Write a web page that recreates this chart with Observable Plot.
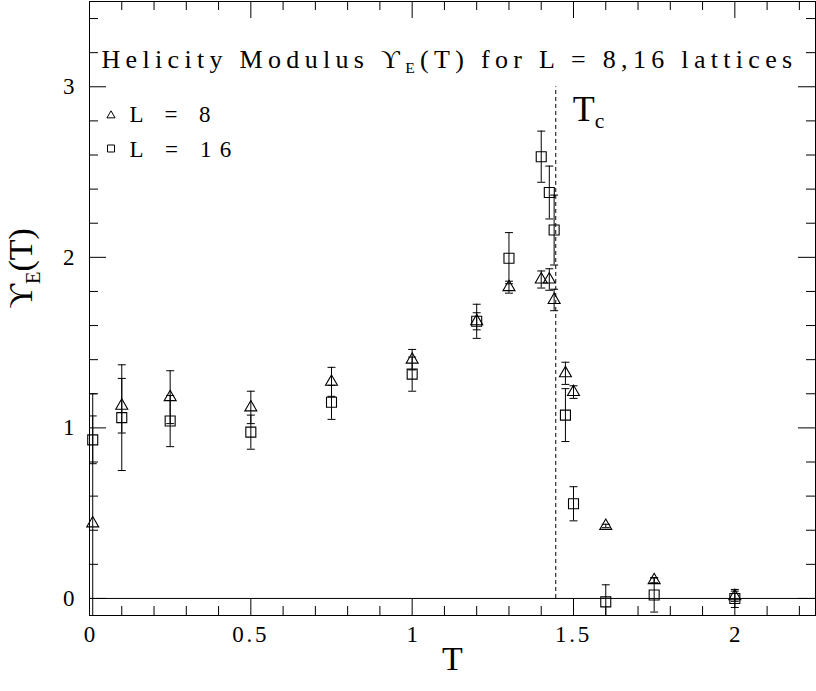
<!DOCTYPE html>
<html><head><meta charset="utf-8">
<script src="https://cdn.jsdelivr.net/npm/d3@7"></script>
<script src="https://cdn.jsdelivr.net/npm/@observablehq/plot@0.6"></script>
<style>body{margin:0;background:#fff} svg{display:block} svg text{font-family:"Liberation Serif","DejaVu Serif",serif}</style>
</head><body><div id="chart"></div>
<script>
// ---- data ----
const T8  = [0.01, 0.1, 0.25, 0.5, 0.75, 1.0, 1.2, 1.3, 1.4, 1.425, 1.44, 1.475, 1.5, 1.6, 1.75, 2.0];
const Y8  = [0.44, 1.13, 1.18, 1.12, 1.27, 1.40, 1.625, 1.825, 1.87, 1.87, 1.75, 1.32, 1.21, 0.425, 0.107, 0.013];
const E8  = [0.76, 0.16, 0.155, 0.095, 0.085, 0.06, 0.05, 0.035, 0.05, 0.063, 0.063, 0.065, 0.037, 0.01, 0.015, 0.03];
const T16 = [0.01, 0.1, 0.25, 0.5, 0.75, 1.0, 1.2, 1.3, 1.4, 1.425, 1.44, 1.475, 1.5, 1.6, 1.75, 2.0];
const Y16 = [0.93, 1.06, 1.04, 0.975, 1.15, 1.315, 1.625, 1.995, 2.59, 2.38, 2.16, 1.075, 0.555, -0.02, 0.02, 0.0];
const E16 = [0.14, 0.31, 0.15, 0.10, 0.10, 0.10, 0.10, 0.15, 0.15, 0.155, 0.205, 0.155, 0.10, 0.10, 0.10, 0.053];
const Tc = [1.445];
const TcTop = [3];
const xDomain = [0, 2.25];
const yDomain = [-0.1, 3.5];
const xMajor = [0, 0.5, 1, 1.5, 2];
const xTickLabels = ["0", "0.5", "1", "1.5", "2"];
const xMinor = [0.1,0.2,0.3,0.4,0.6,0.7,0.8,0.9,1.1,1.2,1.3,1.4,1.6,1.7,1.8,1.9,2.1,2.2];
const yMajor = [0, 1, 2, 3];
const yTickLabels = ["0", "1", "2", "3"];
const yMinor = [0.2,0.4,0.6,0.8,1.2,1.4,1.6,1.8,2.2,2.4,2.6,2.8,3.2,3.4];
const titleText = "Helicity Modulus ϒE(T) for L = 8,16 lattices";
const legendLabels = ["L = 8", "L = 16"];
const xLabel = "T";
const yLabel = "ϒE(T)";
const tcLabel = "Tc";

// ---- layout ----
const W = 816, H = 691, mL = 89, mR = 1, mT = 1, mB = 76;
const innerW = W - mL - mR, innerH = H - mT - mB;
const font = "Liberation Serif";
const majorLen = 17, minorLen = 9;

const d8 = T8.map((t, i) => ({T: t, Y: Y8[i], lo: Y8[i] - E8[i], hi: Y8[i] + E8[i]}));
const d16 = T16.map((t, i) => ({T: t, Y: Y16[i], lo: Y16[i] - E16[i], hi: Y16[i] + E16[i]}));
const cap = {draw(ctx) { ctx.moveTo(-4, 0); ctx.lineTo(4, 0); }};

function errMarks(data) {
  return [
    Plot.ruleX(data, {x: "T", y1: "lo", y2: "hi", stroke: "black", strokeWidth: 1, clip: true}),
    Plot.dot(data, {x: "T", y: "lo", symbol: cap, stroke: "black", fill: "none", strokeWidth: 1, clip: true}),
    Plot.dot(data, {x: "T", y: "hi", symbol: cap, stroke: "black", fill: "none", strokeWidth: 1, clip: true})
  ];
}
const txt = (data, o) => Plot.text(data, {fill: "black", fontFamily: font, ...o});

const chart = Plot.plot({
  width: W, height: H,
  marginLeft: mL, marginRight: mR, marginTop: mT, marginBottom: mB,
  x: {domain: xDomain, axis: null},
  y: {domain: yDomain, axis: null},
  style: {background: "white", color: "black", overflow: "visible"},
  marks: [
    Plot.ruleY([0], {stroke: "black", strokeWidth: 1}),
    Plot.ruleX(Tc, {x: d => d, y1: 0, y2: TcTop[0], stroke: "black", strokeDasharray: "4,3", strokeWidth: 1}),
    // ticks
    Plot.tickX(xMajor, {x: d => d, insetTop: innerH - majorLen, stroke: "black"}),
    Plot.tickX(xMajor, {x: d => d, insetBottom: innerH - majorLen, stroke: "black"}),
    Plot.tickX(xMinor, {x: d => d, insetTop: innerH - minorLen, stroke: "black"}),
    Plot.tickX(xMinor, {x: d => d, insetBottom: innerH - minorLen, stroke: "black"}),
    Plot.tickY(yMajor, {y: d => d, insetRight: innerW - majorLen, stroke: "black"}),
    Plot.tickY(yMajor, {y: d => d, insetLeft: innerW - majorLen, stroke: "black"}),
    Plot.tickY(yMinor, {y: d => d, insetRight: innerW - minorLen, stroke: "black"}),
    Plot.tickY(yMinor, {y: d => d, insetLeft: innerW - minorLen, stroke: "black"}),
    Plot.frame({stroke: "black", strokeWidth: 1}),
    // tick labels
    txt(xMajor, {x: d => d, text: (d, i) => xTickLabels[i], frameAnchor: "bottom", dy: 26, fontSize: 23}),
    txt(yMajor, {y: d => d, text: (d, i) => yTickLabels[i], frameAnchor: "left", dx: -15, textAnchor: "end", fontSize: 23}),
    // axis labels
    txt([xLabel], {text: d => d, frameAnchor: "bottom", dy: 54, fontSize: 34}),
    txt([yLabel], {text: d => d, frameAnchor: "left", dx: -68, rotate: -90, fontSize: 34}),
    // title
    txt([titleText], {text: d => d, frameAnchor: "top", dx: -3, dy: 66, lineAnchor: "bottom", fontSize: 26}),
    // legend
    Plot.dot([legendLabels[0]], {frameAnchor: "top-left", dx: 21.5, dy: 114, symbol: "triangle", r: 3, stroke: "black", fill: "none", strokeWidth: 1}),
    Plot.dot([legendLabels[1]], {frameAnchor: "top-left", dx: 21.5, dy: 147, symbol: "square", r: 3.95, stroke: "black", fill: "none", strokeWidth: 1}),
    txt([legendLabels[0]], {text: d => d, frameAnchor: "top-left", dx: 40, dy: 120, textAnchor: "start", lineAnchor: "bottom", fontSize: 23}),
    txt([legendLabels[1]], {text: d => d, frameAnchor: "top-left", dx: 40, dy: 155, textAnchor: "start", lineAnchor: "bottom", fontSize: 23}),
    // Tc label
    txt(Tc, {x: d => d, y: () => TcTop[0], text: () => tcLabel, dx: 17, dy: 34, textAnchor: "start", lineAnchor: "bottom", fontSize: 36}),
    // data
    ...errMarks(d8),
    ...errMarks(d16),
    Plot.dot(d8, {x: "T", y: "Y", symbol: "triangle", r: 4.45, stroke: "black", fill: "none", strokeWidth: 1.1}),
    Plot.dot(d16, {x: "T", y: "Y", symbol: "square", r: 5.64, stroke: "black", fill: "none", strokeWidth: 1.1})
  ]
});

document.getElementById("chart").appendChild(chart);

// ---- text post-processing: subscripts and widths ----
function rich(el, parts) {
  el.textContent = "";
  let shifted = false;
  for (const [t, sub] of parts) {
    const ts = document.createElementNS("http://www.w3.org/2000/svg", "tspan");
    ts.textContent = t;
    if (sub) { ts.setAttribute("dy", "0.35em"); ts.setAttribute("font-size", "0.6em"); shifted = true; }
    else if (shifted) { ts.setAttribute("dy", "-0.21em"); shifted = false; }
    el.appendChild(ts);
  }
}
function fitWidth(el, w) {
  const n = el.textContent.length;
  const L = el.getComputedTextLength();
  if (n > 1) el.style.letterSpacing = ((w - L) / n) + "px";
}
const texts = Array.from(chart.querySelectorAll("text"));
for (const el of texts) {
  el.style.fontFamily = '"Liberation Serif", "DejaVu Serif", serif';
  const s = el.textContent;
  if (s === titleText) { rich(el, [["Helicity Modulus ϒ", false], ["E", true], ["(T) for L = 8,16 lattices", false]]); fitWidth(el, 696); }
  else if (s === yLabel) { rich(el, [["ϒ", false], ["E", true], ["(T)", false]]); }
  else if (s === tcLabel) { rich(el, [["T", false], ["c", true]]); }
  else if (s === legendLabels[0]) fitWidth(el, 89);
  else if (s === legendLabels[1]) fitWidth(el, 110);
  else if (s === "0.5" || s === "1.5") fitWidth(el, 37);
}
</script>
</body></html>
